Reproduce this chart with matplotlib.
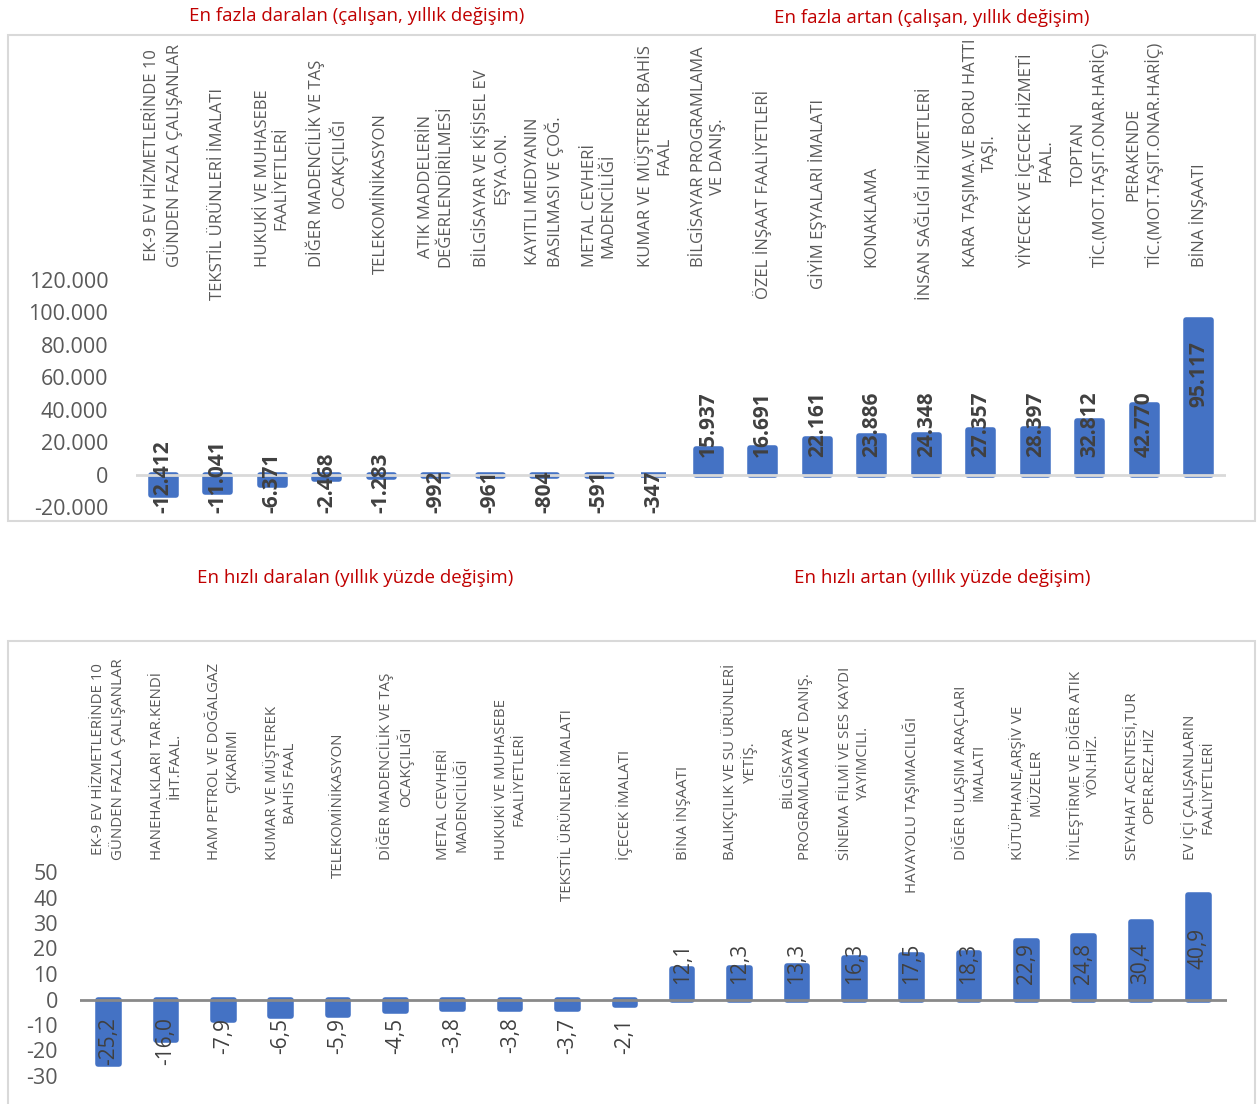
import matplotlib.pyplot as plt
import matplotlib.transforms as mtransforms
from matplotlib.patches import Rectangle

plt.rcParams['font.family'] = ['Open Sans', 'DejaVu Sans']

# --- data -------------------------------------------------------------
top_labels = [
    'EK-9 EV HİZMETLERİNDE 10\nGÜNDEN FAZLA ÇALIŞANLAR',
    'TEKSTİL ÜRÜNLERİ İMALATI',
    'HUKUKİ VE MUHASEBE\nFAALİYETLERİ',
    'DİĞER MADENCİLİK VE TAŞ\nOCAKÇILIĞI',
    'TELEKOMİNİKASYON',
    'ATIK MADDELERİN\nDEĞERLENDİRİLMESİ',
    'BİLGİSAYAR VE KİŞİSEL EV\nEŞYA.ON.',
    'KAYITLI MEDYANIN\nBASILMASI VE ÇOĞ.',
    'METAL CEVHERİ\nMADENCİLİĞİ',
    'KUMAR VE MÜŞTEREK BAHİS\nFAAL',
    'BİLGİSAYAR PROGRAMLAMA\nVE DANIŞ.',
    'ÖZEL İNŞAAT FAALİYETLERİ',
    'GİYİM EŞYALARI İMALATI',
    'KONAKLAMA',
    'İNSAN SAĞLIĞI HİZMETLERİ',
    'KARA TAŞIMA.VE BORU HATTI\nTAŞI.',
    'YİYECEK VE İÇECEK HİZMETİ\nFAAL.',
    'TOPTAN\nTİC.(MOT.TAŞIT.ONAR.HARİÇ)',
    'PERAKENDE\nTİC.(MOT.TAŞIT.ONAR.HARİÇ)',
    'BİNA İNŞAATI',
]
top_values = [-12412, -11041, -6371, -2468, -1283, -992, -961, -804, -591, -347,
              15937, 16691, 22161, 23886, 24348, 27357, 28397, 32812, 42770, 95117]
top_ticks = [-20000, 0, 20000, 40000, 60000, 80000, 100000, 120000]

bottom_labels = [
    'EK-9 EV HİZMETLERİNDE 10\nGÜNDEN FAZLA ÇALIŞANLAR',
    'HANEHALKLARI TAR.KENDİ\nİHT.FAAL.',
    'HAM PETROL VE DOĞALGAZ\nÇIKARIMI',
    'KUMAR VE MÜŞTEREK\nBAHİS FAAL',
    'TELEKOMİNİKASYON',
    'DİĞER MADENCİLİK VE TAŞ\nOCAKÇILIĞI',
    'METAL CEVHERİ\nMADENCİLİĞİ',
    'HUKUKİ VE MUHASEBE\nFAALİYETLERİ',
    'TEKSTİL ÜRÜNLERİ İMALATI',
    'İÇECEK İMALATI',
    'BİNA İNŞAATI',
    'BALIKÇILIK VE SU ÜRÜNLERİ\nYETİŞ.',
    'BİLGİSAYAR\nPROGRAMLAMA VE DANIŞ.',
    'SİNEMA FİLMİ VE SES KAYDI\nYAYIMCILI.',
    'HAVAYOLU TAŞIMACILIĞI',
    'DİĞER ULAŞIM ARAÇLARI\nİMALATI',
    'KÜTÜPHANE,ARŞİV VE\nMÜZELER',
    'İYİLEŞTİRME VE DİĞER ATIK\nYÖN.HİZ.',
    'SEYAHAT ACENTESİ,TUR\nOPER.REZ.HİZ',
    'EV İÇİ ÇALIŞANLARIN\nFAALİYETLERİ',
]
bottom_values = [-25.2, -16.0, -7.9, -6.5, -5.9, -4.5, -3.8, -3.8, -3.7, -2.1,
                 12.1, 12.3, 13.3, 16.3, 17.5, 18.3, 22.9, 24.8, 30.4, 40.9]
bottom_ticks = [-30, -20, -10, 0, 10, 20, 30, 40, 50]

titles = [
    'En fazla daralan (çalışan, yıllık değişim)',
    'En fazla artan (çalışan, yıllık değişim)',
    'En hızlı daralan (yıllık yüzde değişim)',
    'En hızlı artan (yıllık yüzde değişim)',
]

BLUE = '#4472C4'
RED = '#C00000'
W, H = 1260, 1104


def fx(px):
    return px / W


def fy(py):
    return 1 - py / H


def thousands(v):
    return f'{v:,.0f}'.replace(',', '.')


def decimal(v):
    return f'{v:.1f}'.replace('.', ',')


fig = plt.figure(figsize=(W / 100, H / 100), dpi=100)
renderer = fig.canvas.get_renderer()

# frames around each chart
for top, bottom in [(35, 521), (641, 1110)]:
    fig.patches.append(Rectangle((fx(8), fy(bottom)), fx(1255 - 8), (bottom - top) / H,
                                 transform=fig.transFigure, fill=False,
                                 edgecolor='#D9D9D9', linewidth=1.5))

fig.text(fx(357), fy(16), titles[0], color=RED, fontsize=13.5, ha='center', va='center')
fig.text(fx(932), fy(18), titles[1], color=RED, fontsize=13.5, ha='center', va='center')
fig.text(fx(355), fy(578), titles[2], color=RED, fontsize=13.5, ha='center', va='center')
fig.text(fx(942), fy(578), titles[3], color=RED, fontsize=13.5, ha='center', va='center')


def draw_panel(rect, labels, values, ticks, tick_fmt, val_fmt, bar_w, bold,
               zero_color, lab_center, lab_bottom, lab_size, tick_pad,
               neg_off, pos_off, end_off):
    ax = fig.add_axes(rect)
    x = list(range(len(values)))
    ax.bar(x, values, width=bar_w, color=BLUE, edgecolor=BLUE, linewidth=4,
           joinstyle='round', zorder=2)
    ax.axhline(0, color=zero_color, linewidth=2, zorder=3)
    ax.set_xlim(-0.5, len(values) - 0.5)
    ax.set_ylim(ticks[0], ticks[-1])
    ax.set_yticks(ticks)
    ax.set_yticklabels([tick_fmt(t) for t in ticks])
    ax.tick_params(axis='y', length=0, labelsize=15.5, labelcolor='#595959', pad=tick_pad)
    ax.set_xticks([])
    for s in ax.spines.values():
        s.set_visible(False)
    ax.patch.set_visible(False)

    # category labels above the plot
    trans = mtransforms.blended_transform_factory(ax.transData, fig.transFigure)
    for i, lab in enumerate(labels):
        t = fig.text(i, fy(lab_bottom), lab, transform=trans, rotation=90,
                     ha='center', va='bottom', multialignment='center',
                     fontsize=lab_size, color='#595959', linespacing=1.25)
        if '\n' not in lab:
            length = t.get_window_extent(renderer).height
            if lab_center + length / 2 > lab_bottom:
                t.set_y(fy(lab_center))
                t.set_va('center')

    # value labels
    vmax = max(values)
    for i, v in enumerate(values):
        kw = dict(rotation=90, ha='center', textcoords='offset pixels',
                  fontsize=15, color='#404040',
                  fontweight='bold' if bold else 'normal', zorder=4,
                  annotation_clip=False)
        if v == vmax:
            ax.annotate(val_fmt(v), (i, v), xytext=(0, -end_off), va='top', **kw)
        elif v < 0:
            off, va = neg_off
            ax.annotate(val_fmt(v), (i, 0), xytext=(0, off), va=va, **kw)
        else:
            ax.annotate(val_fmt(v), (i, 0), xytext=(0, pos_off), va='bottom', **kw)
    return ax


draw_panel([fx(136), fy(507), fx(1226 - 136), (507 - 280) / H],
           top_labels, top_values, top_ticks, thousands, thousands, 0.45, True,
           '#D9D9D9', 194, 267, 12, 20, (-38, 'bottom'), 18, 21)

draw_panel([fx(80), fy(1076), fx(1227 - 80), (1076 - 872) / H],
           bottom_labels, bottom_values, bottom_ticks, lambda t: f'{t}', decimal,
           0.36, False, '#898989', 805, 860, 10.8, 16, (-18, 'top'), 16, 33)

fig.savefig('out.png', dpi=100, facecolor='white')
